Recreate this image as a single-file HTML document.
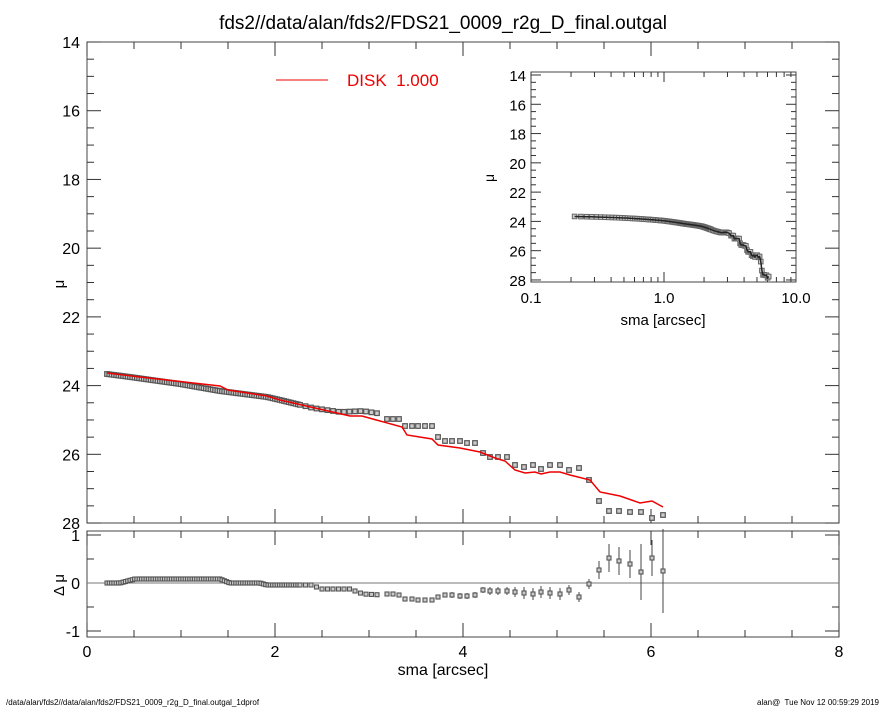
<!DOCTYPE html>
<html><head><meta charset="utf-8"><style>
body{margin:0;background:#fff;}
svg text{font-family:"Liberation Sans",sans-serif;}
</style></head><body>
<svg id="s" width="885" height="708" xmlns="http://www.w3.org/2000/svg">
<rect width="885" height="708" fill="#fff"/>
<text x="443" y="29" font-size="19" text-anchor="middle">fds2//data/alan/fds2/FDS21_0009_r2g_D_final.outgal</text>
<line x1="276" y1="80" x2="328" y2="80" stroke="#e00" stroke-width="1"/>
<text x="347" y="86" font-size="17" fill="#e00">DISK&#160; 1.000</text>
<text x="443" y="675" font-size="16" text-anchor="middle">sma [arcsec]</text>
<text x="64" y="284" font-size="15" text-anchor="middle" transform="rotate(-90 64 284)">μ</text>
<text x="64" y="585" font-size="15" text-anchor="middle" transform="rotate(-90 64 585)">Δ μ</text>
<text x="494" y="178" font-size="14" text-anchor="middle" transform="rotate(-90 494 178)">μ</text>
<text x="663" y="325" font-size="15" text-anchor="middle">sma [arcsec]</text>
<text x="6" y="705" font-size="8">/data/alan/fds2//data/alan/fds2/FDS21_0009_r2g_D_final.outgal_1dprof</text>
<text x="879" y="705" font-size="8" text-anchor="end">alan@&#160; Tue Nov 12 00:59:29 2019</text>
<g id="g"></g>
</svg>
<script>
(function(){
const g=document.getElementById('g');let h='';
const L=(a,b,c,d,col='#333',w=1)=>{h+=`<line x1="${a}" y1="${b}" x2="${c}" y2="${d}" stroke="${col}" stroke-width="${w}"/>`;};
const T=(x,y,t,fs=15,an='middle')=>{h+=`<text x="${x}" y="${y}" font-size="${fs}" text-anchor="${an}">${t}</text>`;};
const X0=87,X1=839,Y0=42,Y1=523,R0=531,R1=637;
h+=`<rect x="${X0}" y="${Y0}" width="${X1-X0}" height="${Y1-Y0}" fill="none" stroke="#444"/>`;
h+=`<rect x="${X0}" y="${R0}" width="${X1-X0}" height="${R1-R0}" fill="none" stroke="#444"/>`;
const px=v=>X0+v*94;
for(let v=0;v<=8;v+=0.5){const x=px(v),big=v%2==0,l=big?14:7;
 L(x,Y1,x,Y1-l);L(x,Y0,x,Y0+l);L(x,R1,x,R1-l);L(x,R0,x,R0+l);
 if(big)T(x,657,v,16);}
const py=m=>Y0+(m-14)*34.36;
for(let m=14;m<=28;m+=0.5){const y=py(m),big=m%2==0,l=big?14:7;L(X0,y,X0+l,y);L(X1,y,X1-l,y);if(big)T(80,y+6,m,16,'end');}
const ry=d=>583-d*48;
for(let d=-1;d<=1;d+=0.5){const y=ry(d),big=d%1==0,l=big?14:7;L(X0,y,X0+l,y);L(X1,y,X1-l,y);if(big)T(80,y+6,d,16,'end');}
L(X0,583,X1,583,'#777');
function interp(pts,x){for(let i=0;i<pts.length-1;i++){if(x>=pts[i][0]&&x<=pts[i+1][0]){const t=(x-pts[i][0])/(pts[i+1][0]-pts[i][0]);return pts[i][1]+t*(pts[i+1][1]-pts[i][1]);}}return pts[pts.length-1][1];}
const topK=[[107,374],[130,377],[180,384],[220,391],[267,397],[280,400],[313,408],[340,412],[363,411],[382,414]];
const resK=[[107,583],[120,583],[135,579],[220,579],[230,583],[260,583],[267,585],[313,585],[320,589],[350,589],[355,591],[363,594],[382,595]];
let xs=[];for(let x=107;x<300;x+=2.3)xs.push(x);for(let x=300;x<382;x+=5.5)xs.push(x);
let tops=xs.map(x=>[x,interp(topK,x)]),res=xs.map(x=>[x,interp(resK,x),0]);
const tp=[[387,419],[393,419],[399,419],[405,426],[412,426],[418,426],[425,426],[432,426],[438,437],[445,441],[452,441],[460,441],[467,443],[475,443],[483,453],[490,457],[498,457],[507,457],[515,465],[524,467],[533,465],[541,469],[550,465],[560,465],[569,470],[579,468],[589,480],[599,501],[609,511],[619,511],[630,512],[641,512],[652,518],[663,515]];
const rp=[[387,594,0],[393,594,0],[399,595,0],[405,599,0],[412,599,0],[418,600,0],[425,600,0],[432,600,0],[438,597,0],[445,595,2],[452,595,3],[460,596,3],[467,596,3],[475,595,3],[483,590,3],[490,591,4],[498,591,4],[507,591,4],[515,592,5],[524,593,6],[533,594,6],[541,592,6],[550,593,6],[560,594,6],[569,590,5],[579,597,5],[589,584,5],[599,570,9],[609,558,14],[619,561,14],[630,564,14],[641,572,28],[652,558,18],[663,571,42]];
tops=tops.concat(tp);res=res.concat(rp);
for(const p of tops)h+=`<rect x="${p[0]-2.3}" y="${p[1]-2.3}" width="4.6" height="4.6" fill="#ccc" stroke="#555" stroke-width="1.2"/>`;
for(const p of res){if(p[2])L(p[0],p[1]-p[2],p[0],p[1]+p[2],'#444');h+=`<rect x="${p[0]-2}" y="${p[1]-2}" width="4" height="4" fill="#ccc" stroke="#555" stroke-width="1.1"/>`;}
const red=[[107,373],[140,377],[220,386],[228,390],[267,396],[280,400],[350,416],[362,416],[380,421],[402,427],[407,435],[432,439],[438,445],[460,448],[480,452],[495,458],[505,461],[515,470],[525,473],[535,472],[541,474],[550,472],[560,472],[570,475],[590,480],[600,492],[620,496],[640,503],[652,501],[663,507]];
h+=`<polyline points="${red.map(p=>p.join(',')).join(' ')}" fill="none" stroke="#e00" stroke-width="1.5"/>`;
const IX0=531,IX1=796,IY0=72,IY1=282;
h+=`<rect x="${IX0}" y="${IY0}" width="${IX1-IX0}" height="${IY1-IY0}" fill="#fff" stroke="#444"/>`;
const ix=v=>IX0+133*Math.log10(v/0.1), iy=m=>75+(m-14)*14.64;
for(const dec of [0.1,1]){for(let k=1;k<10;k++){const x=ix(dec*k);const l=k==1?10:5;L(x,IY1,x,IY1-l);L(x,IY0,x,IY0+l);}}
T(ix(0.1),303,'0.1',15);T(ix(1),303,'1.0',15);T(IX1,303,'10.0',15);
for(let m=14;m<=28;m+=0.5){const y=iy(m),big=m%2==0,l=big?10:5;L(IX0,y,IX0+l,y);L(IX1,y,IX1-l,y);if(big)T(IX0-5,y+6,m,15,'end');}
const conv=p=>[ix((p[0]-87)/94),iy(14+(p[1]-42)/34.36)];
const ip=tops.map(conv);
for(const p of ip)h+=`<rect x="${p[0]-2.3}" y="${p[1]-2.3}" width="4.6" height="4.6" fill="#ccc" stroke="#666" stroke-width="1"/>`;
h+=`<polyline points="${ip.map(p=>p[0].toFixed(1)+','+p[1].toFixed(1)).join(' ')}" fill="none" stroke="#222" stroke-width="1.5"/>`;
g.innerHTML=h;
})();
</script>
</body></html>
